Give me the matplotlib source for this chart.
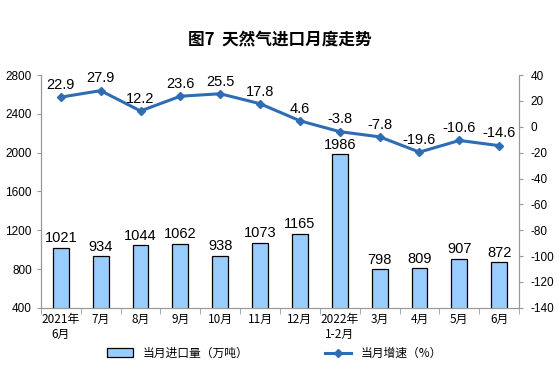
import matplotlib
matplotlib.use("Agg")
import matplotlib.pyplot as plt
import numpy as np

plt.rcParams['font.family'] = ['Liberation Sans', 'Noto Sans CJK SC', 'DejaVu Sans']
plt.rcParams['axes.unicode_minus'] = False

months = ["2021年\n6月", "7月", "8月", "9月", "10月", "11月", "12月",
          "2022年\n1-2月", "3月", "4月", "5月", "6月"]
imports = [1021, 934, 1044, 1062, 938, 1073, 1165, 1986, 798, 809, 907, 872]
growth = [22.9, 27.9, 12.2, 23.6, 25.5, 17.8, 4.6, -3.8, -7.8, -19.6, -10.6, -14.6]

x = np.arange(len(months))

fig = plt.figure(figsize=(5.6, 3.75), dpi=100)
ax = fig.add_axes([0.073, 0.179, 0.854, 0.621])
ax2 = ax.twinx()

bars = ax.bar(x, imports, width=0.4, color="#99CCFF", edgecolor="black",
              linewidth=0.9, label="当月进口量（万吨）", zorder=2)
ax.set_ylim(400, 2800)
ax.set_yticks(range(400, 2801, 400))
ax.set_xlim(-0.5, len(months) - 0.5)
for xi, v in zip(x, imports):
    ax.text(xi, v + 25, str(v), ha="center", va="bottom", fontsize=10.5)

line, = ax2.plot(x, growth, color="#2E6DB4", linewidth=2.2, marker="D",
                 markersize=4, label="当月增速（%）", zorder=3)
ax2.set_ylim(-140, 40)
ax2.set_yticks(range(-140, 41, 20))
for xi, v in zip(x, growth):
    ax2.text(xi, v + 4, f"{v:.1f}", ha="center", va="bottom", fontsize=10.5)

ax.set_xticks(x)
ax.set_xticklabels(months, fontsize=8.5, family=['Noto Sans CJK SC', 'DejaVu Sans'])
ax.set_xticks(np.arange(-0.5, len(months), 1), minor=True)
ax.tick_params(axis="x", which="major", length=0, pad=4)
ax.tick_params(axis="x", which="minor", length=4, color="#999999")
ax.tick_params(axis="y", labelsize=8.5, length=3, color="#999999")
ax2.tick_params(axis="y", labelsize=8.5, length=3, color="#999999", pad=5)

for a in (ax, ax2):
    a.spines["top"].set_visible(False)
    for s in ("left", "right", "bottom"):
        a.spines[s].set_color("#999999")

fig.text(0.5, 0.893, "图7  天然气进口月度走势", ha="center", va="center",
         fontsize=12, fontweight="bold", family=['Noto Sans CJK SC', 'DejaVu Sans'])

fig.legend(handles=[bars, line], loc="center", bbox_to_anchor=(0.49, 0.058),
           ncol=2, frameon=False, columnspacing=6.5, handlelength=2.2,
           prop={"family": ['Noto Sans CJK SC', 'DejaVu Sans'], "size": 8.5})

fig.savefig("out.png", dpi=100)
